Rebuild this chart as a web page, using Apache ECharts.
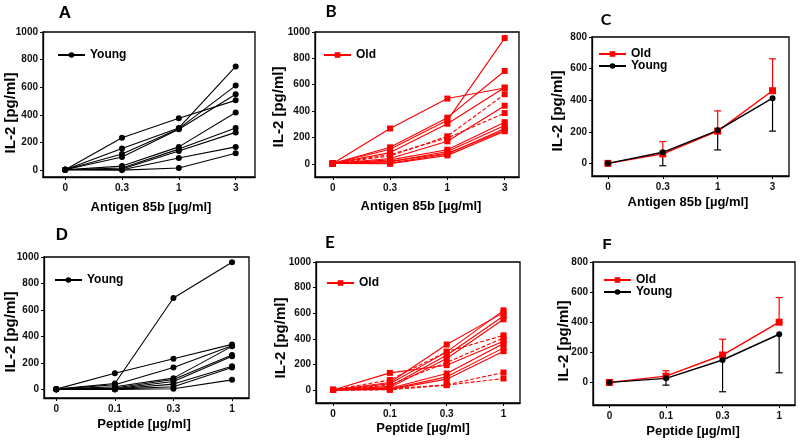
<!DOCTYPE html>
<html><head><meta charset="utf-8">
<script src="https://cdn.jsdelivr.net/npm/echarts@6/dist/echarts.min.js"></script>
<style>html,body{margin:0;padding:0;background:#fff}#c{width:800px;height:447px}</style>
</head><body><div id="c"></div>
<script>
// ---- tick labels / categories ----
const antigenLabels = ['0', '0.3', '1', '3'];
const peptideLabels = ['0', '0.1', '0.3', '1'];
const yTicks1000 = [0, 200, 400, 600, 800, 1000];
const yTicks800 = [0, 200, 400, 600, 800];

// ---- panel A: young, antigen 85b (one row per donor) ----
const youngAntigen = [
  [2, 234, 375, 505],
  [2, 156, 305, 751],
  [2, 117, 300, 612],
  [2, 95, 296, 549],
  [2, 29, 168, 417],
  [2, 15, 152, 305],
  [2, 8, 139, 273],
  [2, 2, 88, 168],
  [2, 0, 15, 122]
];
// ---- panel B: old, antigen 85b ----
const oldAntigenSolid = [
  [2, 268, 495, 575],
  [2, 110, 330, 954],
  [2, 125, 350, 704],
  [2, 85, 304, 579],
  [2, 40, 171, 441],
  [2, 30, 107, 316],
  [2, 15, 94, 291],
  [2, 5, 74, 268],
  [2, 0, 64, 247],
  [2, 20, 80, 255]
];
const oldAntigenDashed = [
  [2, 60, 209, 528],
  [2, 70, 196, 385]
];
// ---- panel D: young, peptide ----
const youngPeptide = [
  [2, 45, 690, 960],
  [2, 122, 232, 340],
  [2, 35, 165, 330],
  [2, 20, 85, 325],
  [2, 10, 75, 260],
  [2, 5, 60, 250],
  [2, 3, 40, 175],
  [2, 2, 20, 165],
  [2, 0, 5, 72]
];
// ---- panel E: old, peptide ----
const oldPeptideSolid = [
  [2, 60, 356, 605],
  [2, 50, 299, 623],
  [2, 30, 273, 579],
  [2, 20, 247, 553],
  [2, 135, 195, 382],
  [2, 15, 130, 364],
  [2, 8, 104, 330],
  [2, 5, 86, 304]
];
const oldPeptideDashed = [
  [2, 80, 300, 428],
  [2, 40, 216, 408],
  [2, 10, 42, 138],
  [2, 3, 39, 91]
];
// ---- panel C: means and error (Old: +err, Young: -err) ----
const meanOldAntigen = [0, 60, 204, 460];
const errOldAntigen = [0, 78, 128, 202];
const meanYoungAntigen = [0, 70, 209, 413];
const errYoungAntigen = [0, 85, 124, 209];
// ---- panel F ----
const meanOldPeptide = [0, 42, 182, 400];
const errOldPeptide = [0, 36, 105, 164];
const meanYoungPeptide = [0, 27, 149, 320];
const errYoungPeptide = [0, 45, 211, 256];

const FONT = '"Liberation Sans", Arial, sans-serif';
const RED = '#ff0000';
const BLACK = '#000000';

const panels = [
  {left: 43, top: 32, width: 212, height: 145, xmin: -0.39, xmax: 3.34, ymin: -50, ymax: 1000, yt: yTicks1000, labels: antigenLabels},
  {left: 315, top: 32, width: 204, height: 145, xmin: -0.31, xmax: 3.25, ymin: -100, ymax: 1000, yt: yTicks1000, labels: antigenLabels},
  {left: 592, top: 37, width: 197, height: 139, xmin: -0.29, xmax: 3.30, ymin: -80, ymax: 800, yt: yTicks800, labels: antigenLabels},
  {left: 44, top: 257, width: 205, height: 141, xmin: -0.21, xmax: 3.29, ymin: -65, ymax: 1000, yt: yTicks1000, labels: peptideLabels},
  {left: 316, top: 262, width: 204, height: 141, xmin: -0.30, xmax: 3.29, ymin: -100, ymax: 1000, yt: yTicks1000, labels: peptideLabels},
  {left: 593, top: 262, width: 202, height: 143, xmin: -0.29, xmax: 3.28, ymin: -150, ymax: 800, yt: yTicks800, labels: peptideLabels}
];

const grid = panels.map(p => ({left: p.left, top: p.top, width: p.width, height: p.height, show: true, borderColor: '#000', borderWidth: 1.3, backgroundColor: 'transparent', containLabel: false}));
const labelStyle = {fontFamily: FONT, fontWeight: 'bold', fontSize: 10, color: '#111'};
const xAxis = panels.map((p, gi) => ({
  type: 'value', gridIndex: gi, min: p.xmin, max: p.xmax,
  axisLine: {show: true, onZero: false, lineStyle: {color: '#000', width: 1.3}},
  axisTick: {show: true, inside: false, length: 3, customValues: [0, 1, 2, 3], lineStyle: {color: '#000', width: 1}},
  axisLabel: Object.assign({customValues: [0, 1, 2, 3], margin: 6, formatter: v => p.labels[Math.round(v)]}, labelStyle),
  splitLine: {show: false}
}));
const yAxis = panels.map((p, gi) => ({
  type: 'value', gridIndex: gi, min: p.ymin, max: p.ymax,
  axisLine: {show: true, onZero: false, lineStyle: {color: '#000', width: 1.3}},
  axisTick: {show: true, inside: false, length: 3, customValues: p.yt, lineStyle: {color: '#000', width: 1}},
  axisLabel: Object.assign({customValues: p.yt, margin: 5, formatter: v => String(Math.round(v))}, labelStyle),
  splitLine: {show: false}
}));

function toPts(row) { return row.map((v, i) => [i, v]); }
function donorSeries(rows, gi, name, color, symbol, dashed) {
  return rows.map(r => ({
    type: 'line', name: name, xAxisIndex: gi, yAxisIndex: gi, data: toPts(r),
    symbol: symbol, symbolSize: 6, showSymbol: true,
    lineStyle: {color: color, width: 1.1, type: dashed ? [4, 2] : 'solid'},
    itemStyle: {color: color}, animation: false, silent: true
  }));
}
function errSeries(mean, err, sign, gi, color) {
  return {
    type: 'custom', xAxisIndex: gi, yAxisIndex: gi, animation: false, silent: true,
    data: mean.map((m, i) => [i, m, sign * err[i]]),
    renderItem: (params, api) => {
      const x = api.value(0), y = api.value(1), d = api.value(2);
      const a = api.coord([x, y]), b = api.coord([x, y + d]);
      const st = {stroke: color, lineWidth: 1.2};
      return {type: 'group', children: [
        {type: 'line', shape: {x1: a[0], y1: a[1], x2: b[0], y2: b[1]}, style: st},
        {type: 'line', shape: {x1: b[0] - 3.5, y1: b[1], x2: b[0] + 3.5, y2: b[1]}, style: st}
      ]};
    }
  };
}
function meanSeries(mean, gi, name, color, symbol, size) {
  return {type: 'line', name: name, xAxisIndex: gi, yAxisIndex: gi, data: toPts(mean),
    symbol: symbol, symbolSize: size, lineStyle: {color: color, width: 1.4}, itemStyle: {color: color},
    animation: false, silent: true};
}

const series = [].concat(
  donorSeries(youngAntigen, 0, 'Young', BLACK, 'circle', false),
  donorSeries(oldAntigenSolid, 1, 'Old', RED, 'rect', false),
  donorSeries(oldAntigenDashed, 1, 'Old', RED, 'rect', true),
  [errSeries(meanOldAntigen, errOldAntigen, 1, 2, RED), errSeries(meanYoungAntigen, errYoungAntigen, -1, 2, BLACK),
   meanSeries(meanOldAntigen, 2, 'Old', RED, 'rect', 7), meanSeries(meanYoungAntigen, 2, 'Young', BLACK, 'circle', 6)],
  donorSeries(youngPeptide, 3, 'Young', BLACK, 'circle', false),
  donorSeries(oldPeptideSolid, 4, 'Old', RED, 'rect', false),
  donorSeries(oldPeptideDashed, 4, 'Old', RED, 'rect', true),
  [errSeries(meanOldPeptide, errOldPeptide, 1, 5, RED), errSeries(meanYoungPeptide, errYoungPeptide, -1, 5, BLACK),
   meanSeries(meanOldPeptide, 5, 'Old', RED, 'rect', 7), meanSeries(meanYoungPeptide, 5, 'Young', BLACK, 'circle', 6)]
);

const legTxt = {fontFamily: FONT, fontWeight: 'bold', fontSize: 12, color: '#000'};
function leg(left, top, names) {
  return {left: left, top: top, orient: 'vertical', itemWidth: 27, itemHeight: 7, itemGap: 0, padding: 0,
    data: names, textStyle: legTxt, selectedMode: false};
}
const legend = [
  leg(57, 49, ['Young']),
  leg(323, 49, ['Old']),
  leg(598, 48, ['Old', 'Young']),
  leg(54, 274, ['Young']),
  leg(326, 277, ['Old']),
  leg(603, 274, ['Old', 'Young'])
];

function txt(s, x, y, size, family, rot) {
  return {type: 'text', x: x, y: y, rotation: rot || 0, silent: true,
    style: {text: s, fill: '#000', fontFamily: family || FONT, fontWeight: 'bold', fontSize: size,
      align: 'center', verticalAlign: 'middle', textAlign: 'center', textVerticalAlign: 'middle'}};
}
const CAL = 'Lato, "Open Sans", sans-serif';
const graphic = [
  txt('A', 65, 13, 17), txt('B', 331, 12, 17, CAL), txt('C', 606, 20, 16, CAL),
  txt('D', 62, 235, 17), txt('E', 330, 243, 17, CAL), txt('F', 607, 245, 15),
  txt('Antigen 85b [µg/ml]', 151, 207, 13), txt('Antigen 85b [µg/ml]', 421, 206, 13), txt('Antigen 85b [µg/ml]', 688, 202, 13),
  txt('Peptide [µg/ml]', 144, 424, 13), txt('Peptide [µg/ml]', 423, 428, 13), txt('Peptide [µg/ml]', 693, 431, 13),
  txt('IL-2 [pg/ml]', 11, 113, 15, FONT, Math.PI / 2), txt('IL-2 [pg/ml]', 279, 107, 15, FONT, Math.PI / 2),
  txt('IL-2 [pg/ml]', 558, 111, 15, FONT, Math.PI / 2), txt('IL-2 [pg/ml]', 11, 332, 15, FONT, Math.PI / 2),
  txt('IL-2 [pg/ml]', 281, 338, 15, FONT, Math.PI / 2), txt('IL-2 [pg/ml]', 564, 341, 15, FONT, Math.PI / 2)
];

const chart = echarts.init(document.getElementById('c'), null, {renderer: 'canvas'});
chart.setOption({animation: false, backgroundColor: '#fff', grid, xAxis, yAxis, series, legend, graphic});
</script></body></html>
